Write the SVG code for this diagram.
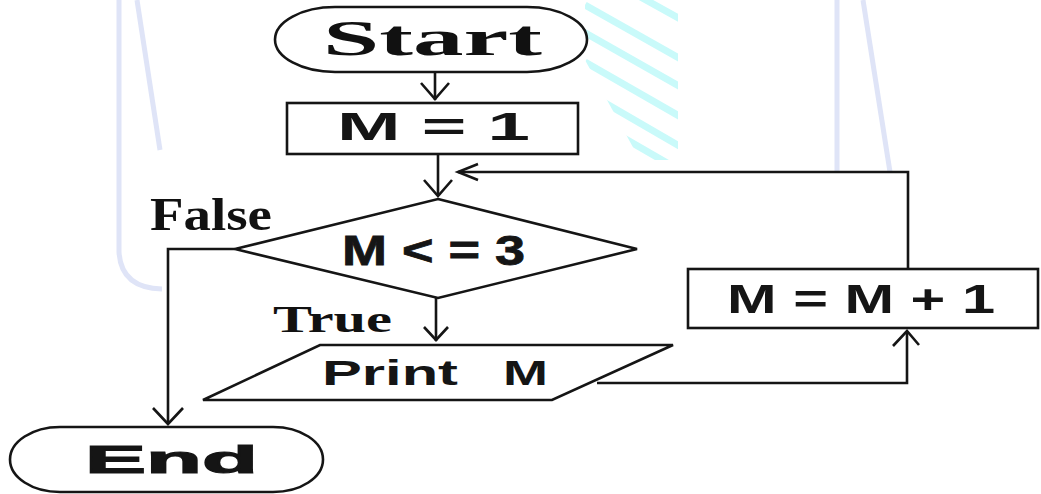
<svg xmlns="http://www.w3.org/2000/svg" width="1041" height="494" viewBox="0 0 1041 494">
<defs>
<style>
.shape{fill:#fff;stroke:#151515;stroke-width:2.6}
.conn{fill:none;stroke:#151515;stroke-width:2.6}
.head{fill:none;stroke:#151515;stroke-width:2.6;stroke-linejoin:miter}
.serif{font-family:"Liberation Serif","Times New Roman",serif;font-weight:bold;fill:#111}
.sans{font-family:"Liberation Sans",Arial,sans-serif;font-weight:bold;fill:#151515}
.wm{fill:none;stroke:#dfe4f7;stroke-width:5}
.cy{fill:none;stroke:#c9fafa;stroke-width:7}
</style>
<clipPath id="cyclip"><polygon points="585,0 678,0 678,160 640,160 585,60"/></clipPath>
</defs>
<rect width="1041" height="494" fill="#fff"/>
<g id="watermark">
<path class="wm" d="M119,0 L119,252 Q121,288 162,289"/>
<path class="wm" d="M137,0 L160,150"/>
<path class="wm" d="M837,0 L837,172"/>
<path class="wm" d="M863,0 L890,172"/>
<g clip-path="url(#cyclip)">
<path class="cy" d="M610,-20 L700,30"/>
<path class="cy" d="M585,5 L700,70"/>
<path class="cy" d="M580,30 L700,98"/>
<path class="cy" d="M585,62 L700,128"/>
<path class="cy" d="M600,100 L700,158"/>
<path class="cy" d="M610,130 L700,182"/>
</g>
</g>
<g id="connectors">
<path class="conn" d="M435,72 L435,100"/>
<path class="head" d="M421,83 L435,99 L449,83"/>
<path class="conn" d="M438,154 L438,196"/>
<path class="head" d="M424,180 L438,196 L452,180"/>
<path class="conn" d="M908,269 L908,172 L458,172"/>
<path class="head" d="M478,164 L458,172 L478,180"/>
<path class="conn" d="M436,298 L436,341"/>
<path class="head" d="M424,327 L436,340 L448,327"/>
<path class="conn" d="M235,249 L168,249 L168,424"/>
<path class="head" d="M153,408 L168,424 L183,408"/>
<path class="conn" d="M597,383 L907,383 L907,331"/>
<path class="head" d="M893,346 L907,331 L919,345"/>
</g>
<g id="start">
<rect class="shape" x="275" y="7" width="312" height="65" rx="60" ry="32.5"/>
<text class="serif" x="323" y="55" font-size="50" textLength="219" lengthAdjust="spacingAndGlyphs">Start</text>
</g>
<g id="init">
<rect class="shape" x="287" y="103" width="291" height="51"/>
<text class="sans" x="337" y="140" font-size="38" textLength="193" lengthAdjust="spacingAndGlyphs">M = 1</text>
</g>
<g id="decision">
<polygon class="shape" points="438,199 637,249 438,298 235,249"/>
<text class="sans" x="342" y="265" font-size="42" font-weight="normal" stroke="#151515" stroke-width="0.8" textLength="183" lengthAdjust="spacingAndGlyphs">M &lt; = 3</text>
</g>
<g id="label-false">
<text class="serif" x="150" y="230" font-size="46" textLength="122" lengthAdjust="spacingAndGlyphs">False</text>
</g>
<g id="label-true">
<text class="serif" x="273" y="332" font-size="38" textLength="119" lengthAdjust="spacingAndGlyphs">True</text>
</g>
<g id="print">
<polygon class="shape" points="320,345 673,345 552,400 203,400"/>
<text class="sans" x="322" y="385" font-size="35" textLength="136" lengthAdjust="spacingAndGlyphs">Print</text>
<text class="sans" x="503" y="385" font-size="35" textLength="45" lengthAdjust="spacingAndGlyphs">M</text>
</g>
<g id="increment">
<rect class="shape" x="688" y="269" width="350" height="59"/>
<text class="sans" x="727" y="313" font-size="40" textLength="268" lengthAdjust="spacingAndGlyphs">M = M + 1</text>
</g>
<g id="end">
<rect class="shape" x="10" y="427" width="313" height="65" rx="50" ry="32.5"/>
<text class="sans" x="85" y="473" font-size="39" stroke="#151515" stroke-width="1.2" textLength="173" lengthAdjust="spacingAndGlyphs">End</text>
</g>
</svg>
